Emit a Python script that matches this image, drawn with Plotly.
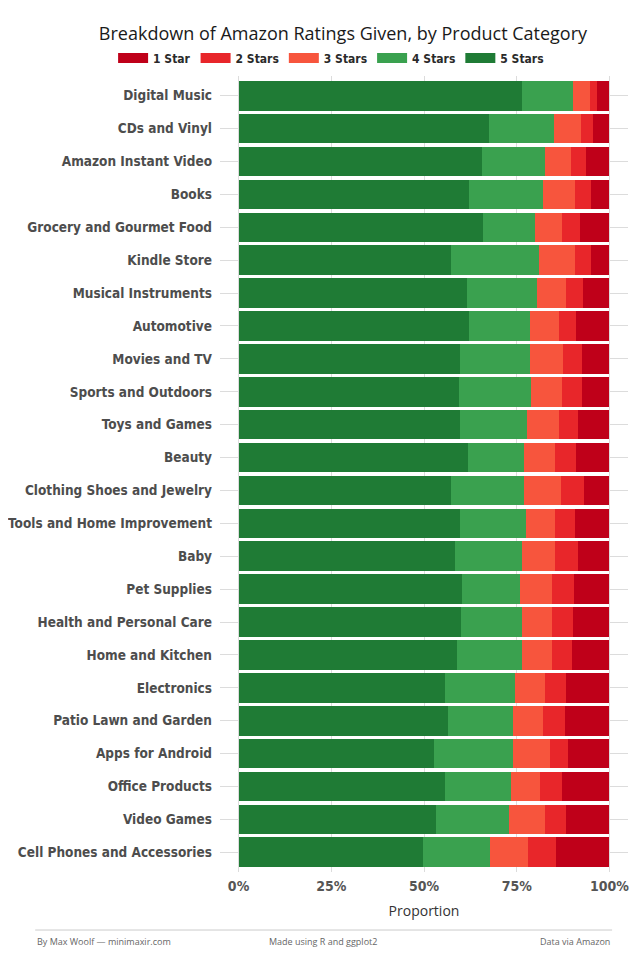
import plotly.graph_objects as go

categories = [
    "Digital Music", "CDs and Vinyl", "Amazon Instant Video", "Books",
    "Grocery and Gourmet Food", "Kindle Store", "Musical Instruments", "Automotive",
    "Movies and TV", "Sports and Outdoors", "Toys and Games", "Beauty",
    "Clothing Shoes and Jewelry", "Tools and Home Improvement", "Baby", "Pet Supplies",
    "Health and Personal Care", "Home and Kitchen", "Electronics", "Patio Lawn and Garden",
    "Apps for Android", "Office Products", "Video Games", "Cell Phones and Accessories",
]

star5 = [0.763, 0.674, 0.656, 0.621, 0.660, 0.574, 0.616, 0.621,
         0.598, 0.594, 0.596, 0.618, 0.574, 0.596, 0.584, 0.602,
         0.599, 0.589, 0.556, 0.566, 0.528, 0.557, 0.533, 0.497]
star4 = [0.139, 0.177, 0.169, 0.200, 0.138, 0.235, 0.188, 0.166,
         0.187, 0.194, 0.181, 0.151, 0.195, 0.180, 0.179, 0.158,
         0.165, 0.174, 0.188, 0.174, 0.212, 0.178, 0.197, 0.182]
star3 = [0.045, 0.071, 0.072, 0.086, 0.075, 0.098, 0.078, 0.077,
         0.090, 0.085, 0.086, 0.085, 0.100, 0.078, 0.091, 0.084,
         0.080, 0.083, 0.082, 0.082, 0.099, 0.079, 0.095, 0.102]
star2 = [0.020, 0.034, 0.040, 0.042, 0.048, 0.043, 0.046, 0.046,
         0.051, 0.052, 0.051, 0.055, 0.063, 0.052, 0.061, 0.060,
         0.057, 0.054, 0.058, 0.058, 0.049, 0.059, 0.059, 0.074]
star1 = [0.033, 0.044, 0.063, 0.051, 0.079, 0.050, 0.072, 0.090,
         0.074, 0.075, 0.086, 0.091, 0.068, 0.094, 0.085, 0.096,
         0.099, 0.100, 0.116, 0.120, 0.112, 0.127, 0.116, 0.145]

series_names = ["5 Stars", "4 Stars", "3 Stars", "2 Stars", "1 Star"]
series_values = [star5, star4, star3, star2, star1]
series_colors = ["#1f7b35", "#3aa14f", "#f7553d", "#e8262a", "#bf0019"]

x_ticks = [0, 0.25, 0.5, 0.75, 1.0]
x_tick_labels = ["0%", "25%", "50%", "75%", "100%"]

label_font = "Liberation Sans Narrow, Arial Narrow, DejaVu Sans Condensed, sans-serif"

fig = go.Figure()
for name, vals, col in zip(series_names, series_values, series_colors):
    fig.add_trace(go.Bar(
        y=categories, x=vals, name=name, orientation="h",
        marker=dict(color=col, line=dict(width=0)),
        showlegend=False, legendgroup=name,
    ))

# legend keys drawn as thick line samples (wide swatches like the reference)
for name, col in zip(series_names[::-1], series_colors[::-1]):
    fig.add_trace(go.Scatter(
        x=[None], y=[None], mode="lines", name=name, legendgroup=name,
        line=dict(color=col, width=12), showlegend=True, hoverinfo="skip",
    ))

fig.update_layout(
    width=640, height=960,
    barmode="stack", bargap=0.1,
    paper_bgcolor="white", plot_bgcolor="white",
    margin=dict(l=212, r=20, t=68, b=96),
    title=dict(
        text="Breakdown of Amazon Ratings Given, by Product Category",
        x=0.5234, xanchor="center", y=0.9729, yanchor="middle",
        xref="container", yref="container",
        font=dict(family="Open Sans, Lato, sans-serif", size=18, color="#1a1a1a"),
    ),
    legend=dict(
        orientation="h", traceorder="normal",
        xref="paper", yref="paper",
        x=-0.262, xanchor="left", y=1.0226, yanchor="middle",
        font=dict(family=label_font, size=12, color="#2a2a2a", weight="bold"),
        itemwidth=30, tracegroupgap=0,
        bgcolor="rgba(0,0,0,0)",
    ),
    font=dict(family=label_font),
)

fig.update_xaxes(
    range=[-0.05, 1.05], tickvals=x_ticks, ticktext=x_tick_labels,
    showgrid=True, gridcolor="#dcdcdc", gridwidth=1, zeroline=False,
    tickfont=dict(family=label_font, size=14, color="#555555", weight="bold"),
    title=dict(text="Proportion", font=dict(family="Open Sans, Lato, sans-serif", size=14, color="#333333"), standoff=13),
    ticks="", showline=False, ticklabelstandoff=4,
)
fig.update_yaxes(
    range=[len(categories) - 0.4, -0.6], automargin=False,
    showgrid=True, gridcolor="#dcdcdc", gridwidth=1, zeroline=False,
    tickfont=dict(family=label_font, size=13.5, color="#4d4d4d", weight="bold"),
    ticks="", showline=False, ticklabelstandoff=7,
)

# footer rule and captions
fig.add_shape(type="line", xref="paper", yref="paper",
              x0=-0.453, x1=0.961, y0=-0.0729, y1=-0.0729,
              line=dict(color="#cccccc", width=1))
foot_font = dict(family="Open Sans, Lato, sans-serif", size=9, color="#666666")
fig.add_annotation(text="By Max Woolf — minimaxir.com", xref="paper", yref="paper",
                   x=-0.453, y=-0.0867, xanchor="left", yanchor="middle", showarrow=False, font=foot_font)
fig.add_annotation(text="Made using R and ggplot2", xref="paper", yref="paper",
                   x=0.252, y=-0.0867, xanchor="center", yanchor="middle", showarrow=False, font=foot_font)
fig.add_annotation(text="Data via Amazon", xref="paper", yref="paper",
                   x=0.961, y=-0.0867, xanchor="right", yanchor="middle", showarrow=False, font=foot_font)

fig.write_html("out.html")
